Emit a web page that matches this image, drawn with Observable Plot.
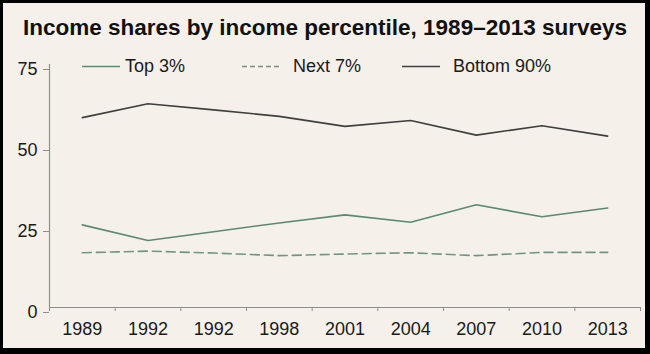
<!DOCTYPE html>
<html>
<head>
<meta charset="utf-8">
<script src="https://cdn.jsdelivr.net/npm/d3@7"></script>
<script src="https://cdn.jsdelivr.net/npm/@observablehq/plot@0.6"></script>
<style>
  html, body { margin: 0; padding: 0; background: #f5f1ea; }
  #wrap { position: relative; width: 650px; height: 354px; background: #f5f1ea; overflow: hidden;
          font-family: "Liberation Sans", Arial, sans-serif; }
  #title { position: absolute; left: 0; top: 15px; width: 650px; text-align: center;
           font-weight: bold; font-size: 22.5px; color: #111; white-space: nowrap; }
  #chart { position: absolute; left: 0; top: 0; }
  .leg { position: absolute; top: 56px; font-size: 18px; color: #1a1a1a; white-space: nowrap; line-height: 20px; }
  .leg svg { position: absolute; top: 0; }
  #border { position: absolute; inset: 0; box-sizing: border-box; border-style: solid; border-color: #000;
            border-width: 3px 5px 6px 3px; pointer-events: none; }
</style>
</head>
<body>
<div id="wrap">
  <div id="chart"></div>
  <div id="title">Income shares by income percentile, 1989–2013 surveys</div>
  <div id="legend"></div>
  <div id="border"></div>
</div>
<script>
// Data
const years = ["1989", "1992", "1992", "1998", "2001", "2004", "2007", "2010", "2013"];
const top3 = [25.5, 20.7, 23.4, 26.1, 28.6, 26.3, 31.7, 28.0, 30.7];
const next7 = [16.9, 17.4, 16.8, 16.0, 16.5, 16.9, 16.0, 17.0, 17.0];
const bottom90 = [58.6, 62.9, 61.0, 59.0, 55.9, 57.7, 53.2, 56.1, 52.9];
const yTicks = [0, 25, 50, 75];
const seriesNames = ["Top 3%", "Next 7%", "Bottom 90%"];

const colTop = "#5b8a72";
const colNext = "#6f9584";
const colBottom = "#3f3f3f";
const axisCol = "#8e8e8e";

const idx = d3.range(years.length);
const rows = (vals) => idx.map(i => ({i, v: vals[i]}));
const boundaries = d3.range(-0.5, years.length, 1);

const chart = Plot.plot({
  width: 650,
  height: 354,
  marginLeft: 49,
  marginRight: 10,
  marginTop: 64,
  marginBottom: 47,
  style: {background: "transparent", fontFamily: "'Liberation Sans', Arial, sans-serif", color: "#1a1a1a"},
  x: {type: "linear", domain: [-0.5, years.length - 0.5]},
  y: {domain: [0, 75]},
  marks: [
    Plot.ruleY([0], {stroke: axisCol, strokeWidth: 1.2}),
    Plot.ruleX([-0.5], {stroke: axisCol, strokeWidth: 1.2}),
    Plot.axisX(boundaries, {tickSize: 4, tickFormat: () => "", stroke: axisCol, label: null}),
    Plot.axisX(idx, {tickSize: 0, tickPadding: 15, tickFormat: i => years[i], fontSize: 18, fill: "#1a1a1a", label: null}),
    Plot.axisY(yTicks, {tickSize: 6, tickPadding: 6, dy: 5, fontSize: 18, stroke: axisCol, fill: "#1a1a1a", label: null}),
    Plot.lineY(rows(next7), {x: "i", y: "v", stroke: colNext, strokeWidth: 1.6, strokeDasharray: "9,5"}),
    Plot.lineY(rows(top3), {x: "i", y: "v", stroke: colTop, strokeWidth: 1.6}),
    Plot.lineY(rows(bottom90), {x: "i", y: "v", stroke: colBottom, strokeWidth: 1.6})
  ]
});
document.getElementById("chart").append(chart);

// Legend (inside plot area)
const legendItems = [
  {name: seriesNames[0], color: colTop, dash: null, left: 82},
  {name: seriesNames[1], color: colNext, dash: "5,3", left: 242},
  {name: seriesNames[2], color: colBottom, dash: null, left: 402}
];
const leg = document.getElementById("legend");
for (const it of legendItems) {
  const d = document.createElement("div");
  d.className = "leg";
  d.style.left = it.left + "px";
  d.style.paddingLeft = (it.name === "Top 3%" ? 43 : 51) + "px";
  d.innerHTML = `<svg width="40" height="20" style="left:0"><line x1="0" x2="38" y1="10.5" y2="10.5" stroke="${it.color}" stroke-width="1.6" ${it.dash ? `stroke-dasharray="${it.dash}"` : ""}/></svg>` + it.name;
  leg.append(d);
}
</script>
</body>
</html>
